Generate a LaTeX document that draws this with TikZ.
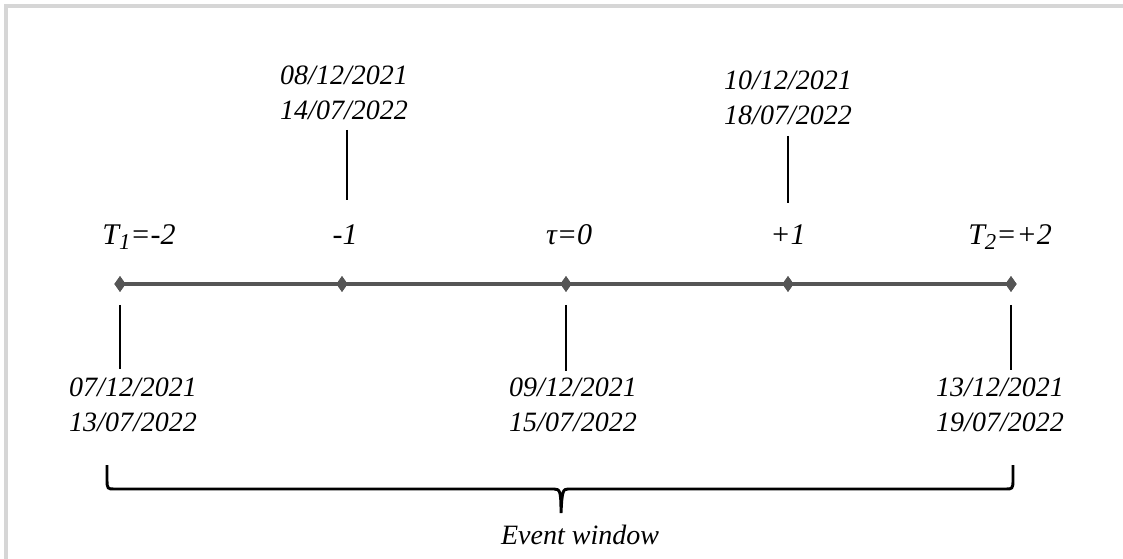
\documentclass[tikz,border=0pt]{standalone}
\usepackage{fontspec}
\setmainfont{Liberation Serif}
\usetikzlibrary{shapes.geometric}
\definecolor{axisgrey}{HTML}{555555}
\definecolor{framegrey}{HTML}{D6D6D6}
\newcommand{\lowsub}[1]{\raisebox{-0.3ex}{\fontsize{17}{17}\selectfont #1}}
\begin{document}
\begin{tikzpicture}[x=0.75pt,y=-0.75pt,
  txt/.style={font=\fontsize{21}{26.25}\selectfont\itshape, inner sep=0pt},
  lbl/.style={txt, anchor=base},
  daylbl/.style={lbl, font=\fontsize{22.5}{27}\selectfont\itshape},
  datebox/.style={txt, align=center},
  tick/.style={diamond, fill=axisgrey, inner sep=0pt, minimum width=8.5pt, minimum height=12pt},
  axisline/.style={draw=axisgrey, line width=3pt},
  stem/.style={draw=black, line width=1.6pt},
  bracepath/.style={draw=black, line width=2.2pt, line join=round}
]
\useasboundingbox (0,0) rectangle (1123,559);
% frame on the top and left edges
\draw[framegrey, line width=2.4pt] (6,559) -- (6,6) -- (1123,6);

% points on the time axis
\node[tick] (p1) at (120,284) {};
\node[tick] (p2) at (342,284) {};
\node[tick] (p3) at (566,284) {};
\node[tick] (p4) at (788,284) {};
\node[tick] (p5) at (1011,284) {};
\draw[axisline] (p1.center) -- (p5.center);
\foreach \p in {p1,p2,p3,p4,p5} \node[tick] at (\p) {};

% day labels
\node[daylbl] (l1) at (139,245) {T\lowsub{1}=-2};
\node[daylbl] (l2) at (345,245) {-1};
\node[daylbl] (l3) at (569,245) {τ=0};
\node[daylbl] (l4) at (788,245) {+1};
\node[daylbl] (l5) at (1010,245) {T\lowsub{2}=+2};

% calendar dates above the axis
\node[datebox, anchor=south] (d2) at (344,120) {08/12/2021\\14/07/2022};
\node[datebox, anchor=south] (d4) at (788,125) {10/12/2021\\18/07/2022};
\draw[stem] ([xshift=2pt]d2.south) ++(0,10) -- ++(0,70);
\draw[stem] (d4.south) ++(0,11) -- ++(0,67);

% calendar dates below the axis
\node[datebox, anchor=north] (d1) at (133,378) {07/12/2021\\13/07/2022};
\node[datebox, anchor=north] (d3) at (573,378) {09/12/2021\\15/07/2022};
\node[datebox, anchor=north] (d5) at (1000,378) {13/12/2021\\19/07/2022};
\coordinate (s1) at (p1 |- 0,305);
\coordinate (s3) at (p3 |- 0,305);
\coordinate (s5) at (p5 |- 0,305);
\draw[stem] (s1) -- ++(0,64);
\draw[stem] (s3) -- ++(0,66);
\draw[stem] (s5) -- ++(0,65);

% brace spanning the event window
\coordinate (bl) at (107,465);
\coordinate (bm) at (561,513);
\coordinate (br) at (1013,465);
\draw[bracepath] (bl) -- (107,480) .. controls (107,489) and (108,489) .. (114,489)
  -- (554,489) .. controls (560,489) and (561,491) .. (bm)
  (bm) .. controls (562,491) and (563,489) .. (568,489)
  -- (1006,489) .. controls (1012,489) and (1013,489) .. (1013,480) -- (br);
\node[lbl] (ew) at (580,544) {Event window};
\end{tikzpicture}
\end{document}
